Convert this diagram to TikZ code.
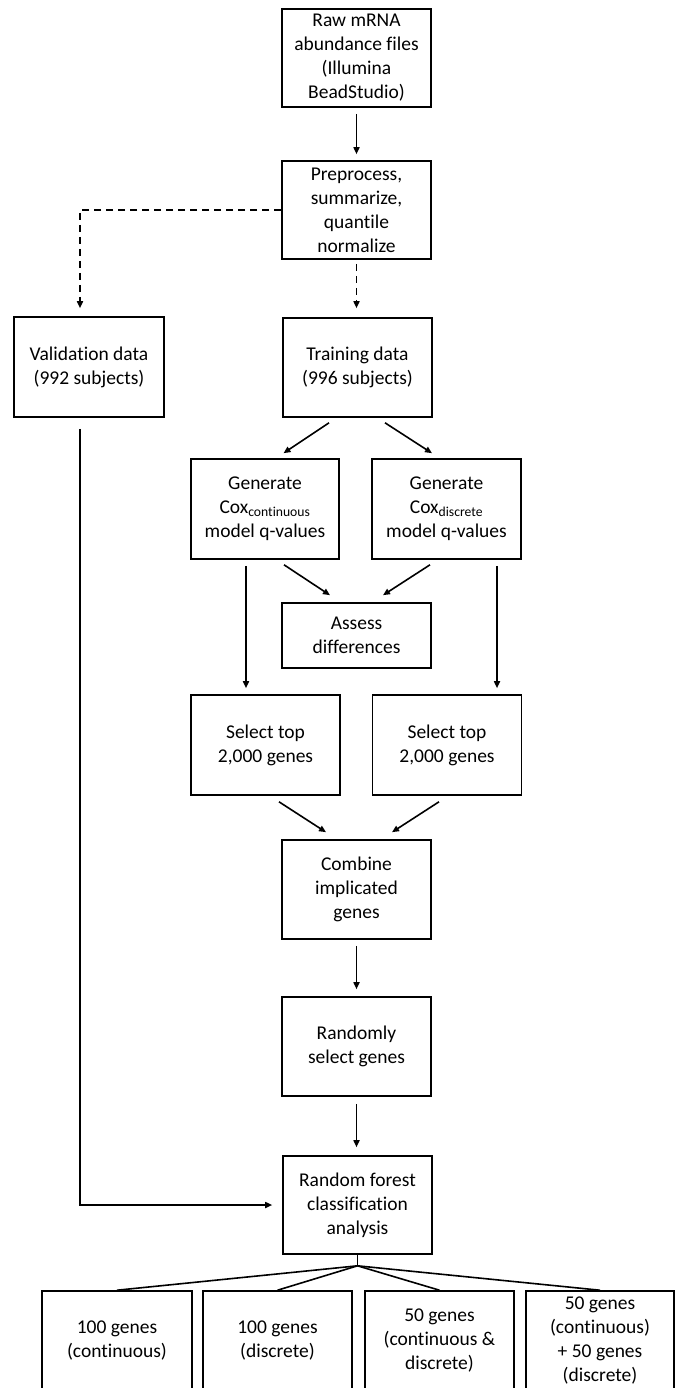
\documentclass[tikz,border=0pt]{standalone}
\usepackage{fontspec}
\setmainfont[Ligatures=NoCommon]{Carlito}
\usetikzlibrary{arrows.meta,calc}
\begin{document}
\begin{tikzpicture}[x=1pt,y=-1pt,
  box/.style={draw,line width=1.6pt,minimum width=149pt,minimum height=99pt,inner sep=0pt,align=center,
    font=\fontsize{19.5}{24}\selectfont},
  conn/.style={line width=1.6pt,-{Triangle[length=7pt,width=6pt]}},
  dconn/.style={conn,dash pattern=on 7pt off 5pt},
  plain/.style={line width=1.6pt}]
\useasboundingbox (0,0) rectangle (676,1388);
\clip (0,0) rectangle (676,1388);
\fill[white] (0,0) rectangle (676,1388);
% nodes
\node[box,minimum height=98pt] (raw) at (356.5,58) {Raw mRNA\\abundance files\\(Illumina\\BeadStudio)};
\node[box,minimum height=98pt] (pre) at (356.5,210) {Preprocess,\\summarize,\\quantile\\normalize};
\node[box,minimum width=150pt,minimum height=100pt] (val) at (89,367) {Validation data\\(992 subjects)};
\node[box] (train) at (357.5,367.5) {Training data\\(996 subjects)};
\node[box,minimum width=148pt,minimum height=100pt] (gc) at (265,509) {Generate\\Cox\textsubscript{continuous}\\model q-values};
\node[box,minimum height=100pt] (gd) at (446.5,509) {Generate\\Cox\textsubscript{discrete}\\model q-values};
\node[box,minimum height=65pt] (assess) at (356.5,635.5) {Assess\\differences};
\node[box,minimum height=100pt] (sc) at (265.5,745) {Select top\\2,000 genes};
\node[box,minimum height=100pt] (sd) at (447,745) {Select top\\2,000 genes};
\node[box] (comb) at (356.5,889.5) {Combine\\implicated\\genes};
\node[box] (rand) at (356.5,1046.5) {Randomly\\select genes};
\node[box,minimum height=98pt] (rf) at (357.5,1205) {Random forest\\classification\\analysis};
\node[box,minimum width=150pt] (b1) at (117,1340.5) {100 genes\\(continuous)};
\node[box] (b2) at (277.5,1340.5) {100 genes\\(discrete)};
\node[box] (b3) at (439.5,1340.5) {50 genes\\(continuous \&\\discrete)};
\node[box,minimum width=148pt] (b4) at (600,1340.5) {50 genes\\(continuous)\\+ 50 genes\\(discrete)};
% connectors
\draw[conn,shorten <=6pt,shorten >=6pt] (raw.south) -- (pre.north);
\coordinate (valtop) at ($(val.north)+(-9,-8)$);
\draw[dconn] (pre.west) -| (valtop);
\draw[dconn,shorten <=4pt,shorten >=9pt] (pre.south) -- (pre.south |- train.north);
\draw[conn] ($(train.south)+(-28.5,5)$) -- ($(gc.north)+(18.5,-5)$);
\draw[conn] ($(train.south)+(27.5,5)$) -- ($(gd.north)+(-14.5,-5)$);
\draw[conn] ($(gc.south)+(19,5)$) -- ($(assess.north)+(-26.5,-7)$);
\draw[conn] ($(gd.south)+(-16.5,5)$) -- ($(assess.north)+(26.5,-7)$);
\draw[conn] ($(gc.south)+(-19,6)$) -- ($(sc.north)+(-19.5,-6)$);
\draw[conn] ($(gd.south)+(50.5,6)$) -- ($(sd.north)+(50,-6)$);
\draw[conn] ($(sc.south)+(13.5,6)$) -- ($(comb.north)+(-30.5,-7)$);
\draw[conn] ($(sd.south)+(-8,6)$) -- ($(comb.north)+(35.5,-7)$);
\draw[conn,shorten <=6pt,shorten >=7pt] (comb.south) -- (rand.north);
\draw[conn,shorten <=7pt,shorten >=8pt] (rand.south) -- (rand.south |- rf.north);
\draw[conn,shorten >=10pt] ($(val.south)+(-9,11)$) |- (rf.west);
\draw[plain] (rf.south) -- ++(0,11) coordinate (fan);
\draw[plain] (fan) -- (b1.north);
\draw[plain] (fan) -- (b2.north);
\draw[plain] (fan) -- (b3.north);
\draw[plain] (fan) -- (b4.north);
\end{tikzpicture}
\end{document}
